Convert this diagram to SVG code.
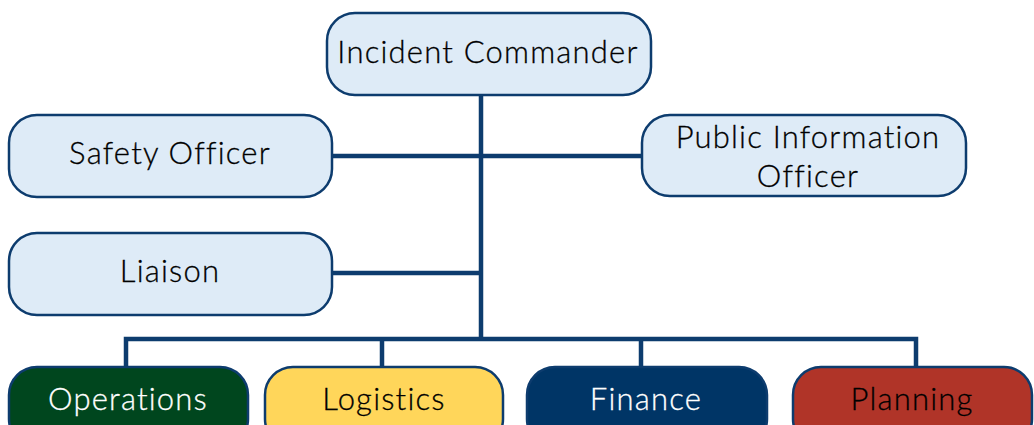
<svg xmlns="http://www.w3.org/2000/svg" width="1034" height="425" viewBox="0 0 1034 425">
  <style>
    .box { fill: #deebf7; stroke: #0d3c6e; stroke-width: 2.5; }
    .conn { fill: none; stroke: #0d3c6e; stroke-width: 4.5; }
    text { font-family: "Lato", "Noto Sans", sans-serif; font-weight: 300; font-size: 31px; letter-spacing: 1.2px; text-anchor: middle; fill: #000000; stroke: #000000; stroke-width: 0.3; }
    .light { fill: #ffffff; stroke: #ffffff; }
  </style>
  <rect width="1034" height="425" fill="#ffffff"/>

  <!-- connectors -->
  <g id="connectors">
    <path class="conn" d="M481,95 V339"/>
    <path class="conn" d="M332,156 H642"/>
    <path class="conn" d="M332,273 H481"/>
    <path class="conn" d="M126,368 V339 H916 V368"/>
    <path class="conn" d="M382,339 V368"/>
    <path class="conn" d="M641,339 V368"/>
  </g>

  <g id="incident-commander">
    <rect class="box" x="327" y="13" width="324" height="82" rx="28"/>
    <text x="488" y="63">Incident Commander</text>
  </g>

  <g id="safety-officer">
    <rect class="box" x="9" y="115" width="323" height="82" rx="28"/>
    <text x="170" y="164">Safety Officer</text>
  </g>

  <g id="public-information-officer">
    <rect class="box" x="642" y="115" width="324" height="81" rx="28"/>
    <text x="808" y="148">Public Information</text>
    <text x="808" y="187">Officer</text>
  </g>

  <g id="liaison">
    <rect class="box" x="9" y="233" width="323" height="82" rx="28"/>
    <text x="170" y="282">Liaison</text>
  </g>

  <g id="operations">
    <rect x="9" y="367" width="239" height="80" rx="28" fill="#00461e" stroke="#0d3c6e" stroke-width="2.5"/>
    <text class="light" x="128" y="410">Operations</text>
  </g>

  <g id="logistics">
    <rect x="265" y="367" width="238" height="80" rx="28" fill="#ffd65a" stroke="#0d3c6e" stroke-width="2.5"/>
    <text x="384" y="410">Logistics</text>
  </g>

  <g id="finance">
    <rect x="527" y="367" width="240" height="80" rx="28" fill="#003566" stroke="#0d3c6e" stroke-width="2.5"/>
    <text class="light" x="646" y="410">Finance</text>
  </g>

  <g id="planning">
    <rect x="793" y="367" width="239" height="80" rx="28" fill="#b03428" stroke="#0d3c6e" stroke-width="2.5"/>
    <text x="912" y="410">Planning</text>
  </g>
</svg>
